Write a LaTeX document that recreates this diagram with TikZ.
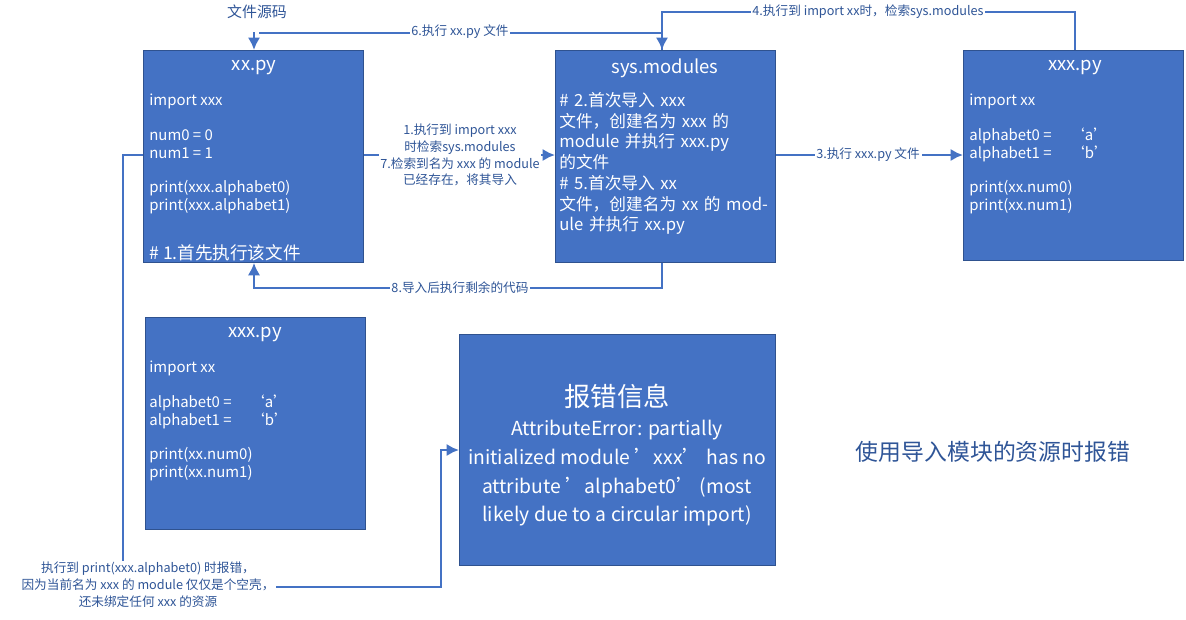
\documentclass[tikz,border=0pt]{standalone}
\usepackage{fontspec}
\setmainfont{Noto Sans CJK SC}
\usetikzlibrary{arrows.meta}
\definecolor{myblue}{RGB}{68,114,196}
\definecolor{myborder}{RGB}{47,82,143}
\definecolor{mytext}{RGB}{47,85,151}
\tikzset{
  codebox/.style = {draw = myborder, fill = myblue, rectangle, line width = 0.5pt, minimum width = 4.4cm, minimum height = 4.24cm, anchor = north west},
  boxtitle/.style = {text = white, font = \fontsize{10.5}{12}\selectfont, anchor = center},
  code/.style = {text = white, font = \fontsize{8.5}{9.9}\selectfont, align = left, anchor = north west, inner sep = 0pt},
  link/.style = {draw = myblue, line width = 1.6pt, -{Latex[length = 2.5mm, width = 2.5mm]}},
  tag/.style = {text = mytext, fill = white, font = \fontsize{7.2}{9.6}\selectfont, align = center, inner sep = 1pt}
}
\begin{document}
\begin{tikzpicture}[x = 0.02cm, y = -0.02cm]
        \path[use as bounding box] (0, 0) rectangle (1186, 619);

        \node[codebox] at (143, 50) (xx) {};
        \node[boxtitle] at (254, 68) {xx.py};
        \node[code] at (149, 94) {import xxx\\ \\num0 = 0\\num1 = 1\\ \\print(xxx.alphabet0)\\print(xxx.alphabet1)};
        \node[code, font = \fontsize{10}{12}\selectfont] at (149, 244) {\# 1.首先执行该文件};

        \node[codebox] at (555, 50) (sys) {};
        \node[boxtitle] at (665, 68) {sys.modules};
        \node[code, font = \fontsize{9.5}{11.8}\selectfont, text width = 4.2cm] at (559, 92) {\# 2.首次导入 xxx 文件，创建名为 xxx 的 module 并执行 xxx.py 的文件\\\# 5.首次导入 xx 文件，创建名为 xx 的 module 并执行 xx.py};

        \node[codebox, minimum height = 4.2cm] at (963, 50) (xxxa) {};
        \node[boxtitle] at (1075, 68) {xxx.py};
        \node[code] at (969, 94) {import xx\\ \\alphabet0 = \quad‘a’\\alphabet1 = \quad‘b’\\ \\print(xx.num0)\\print(xx.num1)};

        \node[codebox] at (145, 317) (xxxb) {};
        \node[boxtitle] at (255, 335) {xxx.py};
        \node[code] at (149, 361) {import xx\\ \\alphabet0 = \quad‘a’\\alphabet1 = \quad‘b’\\ \\print(xx.num0)\\print(xx.num1)};

        \node[codebox, minimum width = 6.32cm, minimum height = 4.62cm] at (459, 334) (err) {};
        \node[text = white, align = center, font = \fontsize{11}{16.4}\selectfont, anchor = north] at (617, 378) {{\fontsize{15}{16}\selectfont 报错信息}\\AttributeError: partially\\initialized module 'xxx' has no\\attribute 'alphabet0' (most\\likely due to a circular import)};

        \node[text = mytext, font = \fontsize{8.5}{10}\selectfont] at (257, 12) (src) {文件源码};
        \node[text = mytext, font = \fontsize{13}{15}\selectfont] at (993, 452) (msg) {使用导入模块的资源时报错};

        % connectors
        \coordinate (c6a) at (662, 33);
        \coordinate (c6b) at (254, 33);
        \path[link] (sys.north -| c6a) -- (c6a) -- (c6b) -- (xx.north -| c6b) node[pos = 0, tag, right = 0pt] {};
        \node[tag] at (460, 32) {6.执行 xx.py 文件};

        \coordinate (c4a) at (1075, 12);
        \coordinate (c4b) at (662, 12);
        \path[link] (xxxa.north -| c4a) -- (c4a) -- (c4b) -- (sys.north -| c4b);
        \node[tag] at (868, 12) {4.执行到 import xx时，检索sys.modules};

        \path[link] (xx.east |- 0, 155) -- (sys.west |- 0, 155);
        \node[tag] at (460, 155) {1.执行到 import xxx\\时检索sys.modules\\7.检索到名为 xxx 的 module\\已经存在，将其导入};

        \path[link] (sys.east |- 0, 155) -- (xxxa.west |- 0, 155);
        \node[tag] at (868, 155) {3.执行 xxx.py 文件};

        \coordinate (c8a) at (662, 288);
        \coordinate (c8b) at (254, 288);
        \path[link] (sys.south -| c8a) -- (c8a) -- (c8b) -- (xx.south -| c8b);
        \node[tag] at (460, 288) {8.导入后执行剩余的代码};

        \coordinate (e1) at (123, 155);
        \coordinate (e2) at (123, 587);
        \coordinate (e3) at (441, 587);
        \coordinate (e4) at (441, 450);
        \path[link] (xx.west |- e1) -- (e1) -- (e2) -- (e3) -- (e4) -- (err.west |- e4);
        \node[tag, fill = white] at (148, 585) {执行到 print(xxx.alphabet0) 时报错，\\因为当前名为 xxx 的 module 仅仅是个空壳，\\还未绑定任何 xxx 的资源};
\end{tikzpicture}
\end{document}
